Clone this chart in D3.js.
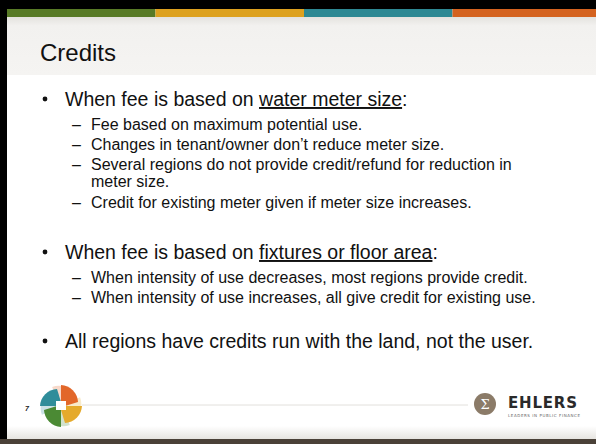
<!DOCTYPE html>
<html>
<head>
<meta charset="utf-8">
<script src="https://cdn.jsdelivr.net/npm/d3@7"></script>
<style>
  html, body { margin: 0; padding: 0; background: #000; }
  svg { display: block; }
</style>
</head>
<body>
<svg id="slide" width="596" height="444"></svg>
<script>
// slide content
const title = "Credits";
const barColors = ["#587a26", "#dda11f", "#2d8893", "#d4621f"];
// each line: level 1 = bullet, 2 = dash, 0 = wrapped continuation; parts flagged 1 are underlined
const lineLevels = [1, 2, 2, 2, 0, 2, 1, 2, 2, 1];
const lineParts = [
    [["When fee is based on ", 0], ["water meter size", 1], [":", 0]],
    [["Fee based on maximum potential use.", 0]],
    [["Changes in tenant/owner don\u2019t reduce meter size.", 0]],
    [["Several regions do not provide credit/refund for reduction in", 0]],
    [["meter size.", 0]],
    [["Credit for existing meter given if meter size increases.", 0]],
    [["When fee is based on ", 0], ["fixtures or floor area", 1], [":", 0]],
    [["When intensity of use decreases, most regions provide credit.", 0]],
    [["When intensity of use increases, all give credit for existing use.", 0]],
    [["All regions have credits run with the land, not the user.", 0]]
];
// baseline of each line (px)
const lineY = [106, 130, 150, 170, 187, 208, 259, 283, 303, 348];
const pageNumber = "7";
const petalColors = ["#e2672a", "#e5aa2c", "#4b8a34", "#2f8d9a"];

const svg = d3.select("#slide");
const width = +svg.attr("width");
const height = +svg.attr("height");
const font = "Liberation Sans, Arial, sans-serif";

const defs = svg.append("defs");
const g1 = defs.append("linearGradient").attr("id", "titleGrad")
    .attr("x1", 0).attr("y1", 0).attr("x2", 0).attr("y2", 1);
g1.append("stop").attr("offset", "0%").attr("stop-color", "#e4e2de");
g1.append("stop").attr("offset", "15%").attr("stop-color", "#f2f1ef");
g1.append("stop").attr("offset", "100%").attr("stop-color", "#f5f4f2");
const g2 = defs.append("linearGradient").attr("id", "footGrad")
    .attr("x1", 0).attr("y1", 0).attr("x2", 0).attr("y2", 1);
g2.append("stop").attr("offset", "0%").attr("stop-color", "#ffffff");
g2.append("stop").attr("offset", "100%").attr("stop-color", "#e6e4e0");

// black frame + white page
svg.append("rect").attr("width", width).attr("height", height).attr("fill", "#000");
svg.append("rect").attr("x", 7).attr("y", 9).attr("width", width - 7).attr("height", height - 9)
    .attr("fill", "#fff");

// title band
svg.append("rect").attr("x", 7).attr("y", 17).attr("width", width - 7).attr("height", 58)
    .attr("fill", "url(#titleGrad)");

// coloured strip on top
const xBar = d3.scaleBand().domain(d3.range(barColors.length)).range([7, 601]);
svg.selectAll(".bar")
    .data(barColors)
    .enter().append("rect")
    .attr("class", "bar")
    .attr("x", (d, i) => xBar(i))
    .attr("y", 9)
    .attr("width", xBar.bandwidth())
    .attr("height", 8)
    .attr("fill", d => d);

svg.append("text")
    .attr("x", 40).attr("y", 61)
    .attr("font-family", font)
    .attr("font-size", 24)
    .attr("fill", "#111")
    .text(title);

// body text
const body = svg.append("g").attr("font-family", font).attr("fill", "#111");
lineParts.forEach((parts, i) => {
    const lvl = lineLevels[i];
    const y = lineY[i];
    const big = lvl === 1;
    if (lvl === 1) {
        body.append("circle").attr("cx", 45).attr("cy", y - 7).attr("r", 2.4);
    } else if (lvl === 2) {
        body.append("text").attr("x", 72).attr("y", y).attr("font-size", 16).text("\u2013");
    }
    const t = body.append("text")
        .attr("x", big ? 65 : 91)
        .attr("y", y)
        .attr("font-size", big ? 19.5 : 16);
    parts.forEach(p => {
        t.append("tspan")
            .style("text-decoration", p[1] ? "underline" : "none")
            .text(p[0]);
    });
});

// footer
svg.append("rect").attr("x", 7).attr("y", 426).attr("width", width - 7).attr("height", 13)
    .attr("fill", "url(#footGrad)");
svg.append("rect").attr("x", 0).attr("y", 439).attr("width", width).attr("height", 5)
    .attr("fill", "#4a4138");
svg.append("line").attr("x1", 82).attr("x2", 468).attr("y1", 405).attr("y2", 405)
    .attr("stroke", "#e2e0dc").attr("stroke-width", 1);

svg.append("text")
    .attr("x", 25).attr("y", 411)
    .attr("font-family", font)
    .attr("font-size", 7).attr("font-style", "italic").attr("font-weight", "bold")
    .attr("fill", "#222")
    .text(pageNumber);

// pinwheel logo
const logo = svg.append("g").attr("transform", "translate(61,406)");
const petal = "M0,0 L0,-21 A18,18 0 0 1 17,-4 L4,0 Z";
logo.selectAll(".ghost")
    .data(petalColors)
    .enter().append("path")
    .attr("class", "ghost")
    .attr("d", petal)
    .attr("fill", d => d)
    .attr("opacity", 0.25)
    .attr("transform", (d, i) => `rotate(${i * 90 - 25})`);
logo.selectAll(".petal")
    .data(petalColors)
    .enter().append("path")
    .attr("class", "petal")
    .attr("d", petal)
    .attr("fill", d => d)
    .attr("transform", (d, i) => `rotate(${i * 90})`);
logo.append("rect").attr("x", -5).attr("y", -5).attr("width", 10).attr("height", 9).attr("fill", "#fff");

// EHLERS mark
svg.append("circle").attr("cx", 485).attr("cy", 404).attr("r", 11).attr("fill", "#8b7b68");
svg.append("text")
    .attr("x", 485).attr("y", 409)
    .attr("text-anchor", "middle")
    .attr("font-family", "DejaVu Serif, serif")
    .attr("font-size", 13)
    .attr("fill", "#fff")
    .text("\u03A3");
svg.append("text")
    .attr("x", 508).attr("y", 408)
    .attr("font-family", "DejaVu Sans, sans-serif")
    .attr("font-weight", "bold")
    .attr("font-size", 15)
    .attr("textLength", 69)
    .attr("fill", "#2a2a2a")
    .text("EHLERS");
svg.append("text")
    .attr("x", 508).attr("y", 416.5)
    .attr("font-family", "DejaVu Sans, sans-serif")
    .attr("font-size", 4)
    .attr("textLength", 72)
    .attr("fill", "#666")
    .text("LEADERS IN PUBLIC FINANCE");
</script>
</body>
</html>
